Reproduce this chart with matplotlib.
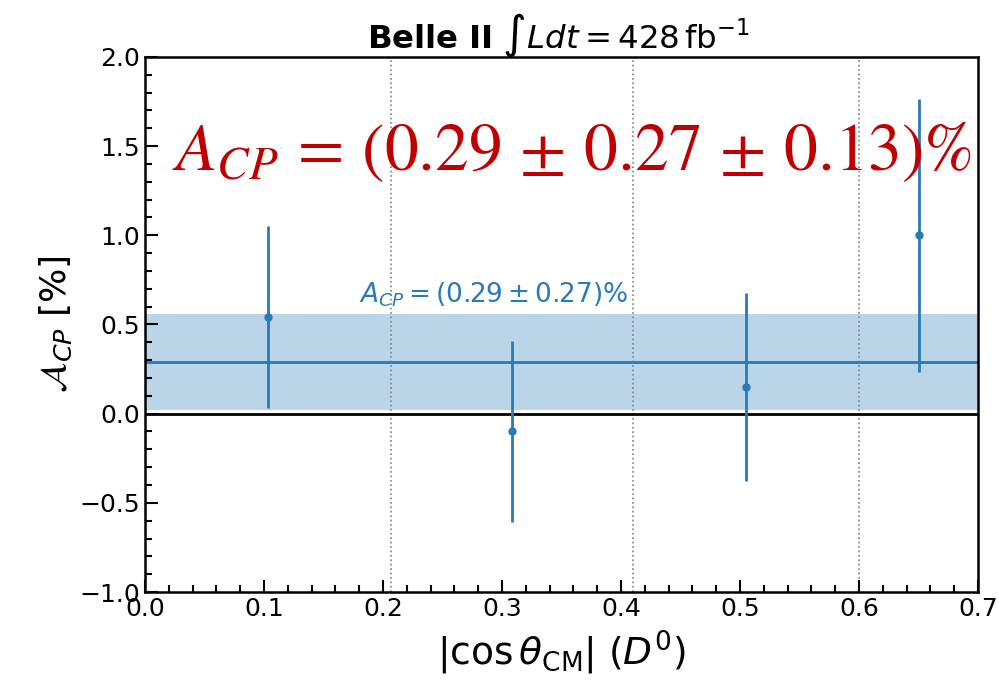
import matplotlib
matplotlib.use("Agg")
import matplotlib.pyplot as plt
from matplotlib.ticker import MultipleLocator
import numpy as np

# Binned asymmetry measurement vs |cos theta_CM|
bin_edges = [0.0, 0.207, 0.41, 0.6, 0.7]
acp_values = [0.54, -0.10, 0.15, 1.00]
acp_errors = [0.51, 0.51, 0.525, 0.765]

# Combined fit result
acp_fit = 0.29
acp_fit_err = 0.27

blue = "#2a7ab8"

fig = plt.figure(figsize=(9.99, 6.86), dpi=100)
ax = fig.add_axes([0.1451, 0.137, 0.8339, 0.780])

centers = [(bin_edges[i] + bin_edges[i + 1]) / 2 for i in range(len(acp_values))]

ax.axhspan(acp_fit - acp_fit_err, acp_fit + acp_fit_err, color="#1f77b4", alpha=0.3, lw=0, zorder=1)
ax.axhline(acp_fit, color=blue, lw=2, zorder=2)
ax.axhline(0.0, color="black", lw=2, zorder=2)
for edge in bin_edges[1:-1]:
    ax.axvline(edge, color="gray", ls=":", lw=1.2, zorder=1.5)

ax.errorbar(centers, acp_values, yerr=acp_errors, fmt="o", ms=5, color=blue,
            elinewidth=2, capsize=0, zorder=3)

ax.text(0.18, 0.665, r"$A_{CP} = (0.29 \pm 0.27)\%$", color=blue, fontsize=19,
        va="center", ha="left", zorder=4)

ax.text(0.0225, 1.47,
        r"$A_{CP}\,=\,(0.29\,\pm\,0.27\,\pm\,0.13)\%$",
        color="#c00000", fontsize=48.5, math_fontfamily="stix",
        va="center", ha="left", zorder=4)

ax.set_xlim(0.0, 0.7)
ax.set_ylim(-1.0, 2.0)
ax.xaxis.set_major_locator(MultipleLocator(0.1))
ax.xaxis.set_minor_locator(MultipleLocator(0.02))
ax.yaxis.set_major_locator(MultipleLocator(0.5))
ax.yaxis.set_minor_locator(MultipleLocator(0.1))
ax.tick_params(which="both", direction="in", top=False, right=False, labelsize=18, width=1.5)
ax.tick_params(which="major", length=9)
ax.tick_params(which="minor", length=5)
for s in ax.spines.values():
    s.set_linewidth(1.8)

ax.set_xlabel(r"$|\cos\theta_{\mathrm{CM}}|$ $(D^0)$", fontsize=27, labelpad=6)
ax.set_ylabel(r"$\mathcal{A}_{CP}$ [%]", fontsize=26)

fig.text(0.5596, 0.948, r"$\bf{Belle\ II}$ $\int L dt = 428\,\mathrm{fb}^{-1}$",
         fontsize=23.3, ha="center", va="center")

fig.savefig("out.png", dpi=100)
